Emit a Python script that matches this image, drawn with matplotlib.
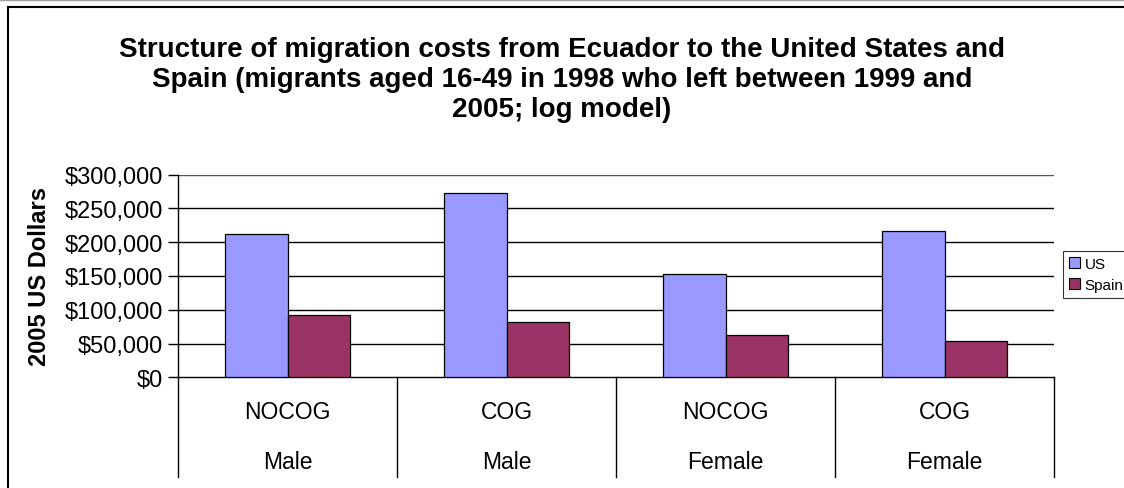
import numpy as np
import matplotlib.pyplot as plt
from matplotlib.lines import Line2D
from matplotlib.patches import Patch

plt.rcParams['font.family'] = ['Liberation Sans', 'DejaVu Sans']

# data
conditions = ['NOCOG', 'COG', 'NOCOG', 'COG']
genders = ['Male', 'Male', 'Female', 'Female']
us_costs = [212000, 273500, 152500, 217000]
spain_costs = [92700, 82000, 63000, 54300]
series_names = ['US', 'Spain']
series_colors = ['#9999FF', '#993366']
y_ticks = [0, 50000, 100000, 150000, 200000, 250000, 300000]

W, H = 1124, 489
fig = plt.figure(figsize=(W / 100, H / 100), dpi=100)
ax = fig.add_axes([178.3 / W, 1 - 378.3 / H, (1054 - 178.3) / W, (378.3 - 175.7) / H])

x = np.arange(len(conditions))
bw = 0.285
ax.bar(x - bw / 2, us_costs, bw, color=series_colors[0], edgecolor='black', linewidth=0.9, zorder=3)
ax.bar(x + bw / 2, spain_costs, bw, color=series_colors[1], edgecolor='black', linewidth=0.9, zorder=3)

ax.set_xlim(-0.5, len(conditions) - 0.5)
ax.set_ylim(0, 300000)
ax.set_yticks(y_ticks)
ax.set_yticklabels([f'${v:,.0f}' for v in y_ticks], fontsize=17)
ax.tick_params(axis='y', length=7, width=1, direction='out', pad=4)
ax.set_xticks([])
for v in y_ticks[1:-1]:
    ax.axhline(v, color='black', linewidth=1, zorder=1)
ax.axhline(y_ticks[-1], color='#555555', linewidth=1, zorder=1)

for s in ['top', 'right']:
    ax.spines[s].set_visible(False)
ax.spines['left'].set_linewidth(1)
ax.spines['bottom'].set_linewidth(1)

# two-level category axis
depth = (478 - 378.3) / (378.3 - 175.7)
for b in np.arange(len(conditions) + 1) - 0.5:
    ax.plot([b, b], [0, -depth], transform=ax.get_xaxis_transform(),
            color='black', linewidth=1, clip_on=False)
for i in range(len(conditions)):
    ax.text(x[i], -(413 - 378.3) / 202.6, conditions[i], transform=ax.get_xaxis_transform(),
            ha='center', va='center', fontsize=16.5)
    ax.text(x[i], -(463 - 378.3) / 202.6, genders[i], transform=ax.get_xaxis_transform(),
            ha='center', va='center', fontsize=16.5)

fig.text(40 / W, 1 - 277 / H, '2005 US Dollars', rotation=90, ha='center', va='center',
         fontsize=17, fontweight='bold')

fig.text(562 / W, 1 - 80 / H,
         'Structure of migration costs from Ecuador to the United States and\n'
         'Spain (migrants aged 16-49 in 1998 who left between 1999 and\n'
         '2005; log model)',
         ha='center', va='center', fontsize=20, fontweight='bold', linespacing=1.22)

handles = [Patch(facecolor=c, edgecolor='black', linewidth=0.8) for c in series_colors]
leg = fig.legend(handles, series_names, loc='upper left', bbox_to_anchor=(1063 / W, 1 - 252 / H),
                 fontsize=11, frameon=True, fancybox=False, edgecolor='black',
                 handlelength=0.7, handleheight=0.7, handletextpad=0.3,
                 borderpad=0.4, labelspacing=0.45, borderaxespad=0)
leg.get_frame().set_linewidth(0.8)

# chart frame
fig.add_artist(Line2D([0, 1], [1 - 0.5 / H, 1 - 0.5 / H], color='#a0a0a0', linewidth=1))
fig.add_artist(Line2D([8 / W, 1], [1 - 8 / H, 1 - 8 / H], color='black', linewidth=1.5))
fig.add_artist(Line2D([8 / W, 8 / W], [0, 1 - 8 / H], color='black', linewidth=1.5))

fig.savefig('out.png', dpi=100)
